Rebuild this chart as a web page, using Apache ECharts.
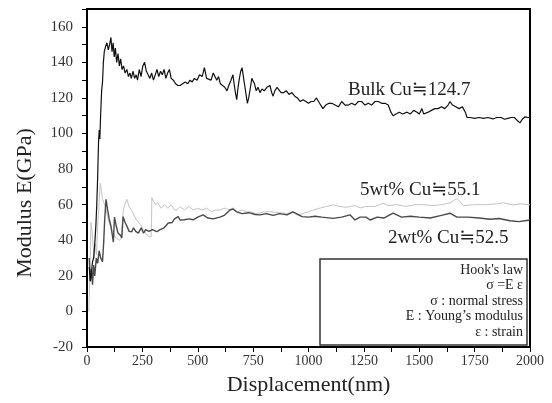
<!DOCTYPE html>
<html>
<head>
<meta charset="utf-8">
<script src="https://cdn.jsdelivr.net/npm/echarts@6/dist/echarts.min.js"></script>
<style>
html,body{margin:0;padding:0;background:#fff;}
#chart{width:552px;height:403px;}
</style>
</head>
<body>
<div id="chart"></div>
<script>
// ---- data ----
const xTicks = [0, 250, 500, 750, 1000, 1250, 1500, 1750, 2000];
const yTicks = [-20, 0, 20, 40, 60, 80, 100, 120, 140, 160];

const bulkCu = [[10,25],[15,17],[20,22],[25,28],[30,30],[35,38],[40,48],[44,60],[48,75],[52,95],[55,102],[58,97],[62,112],[66,124],[70,129],[74,140],[78,146],[84,149],[90,151],[96,147],[102,150],[108,154],[113,146],[118,151],[123,143],[128,148],[134,140],[140,145],[146,138],[152,142],[158,136],[165,138],[172,134],[180,136],[187,132],[194,134],[200,131],[208,135],[215,131],[222,133],[228,130],[236,136],[244,132],[252,138],[260,140],[268,135],[276,133],[284,131],[292,134],[300,130],[308,133],[316,136],[324,132],[332,135],[340,133],[348,136],[356,131],[364,134],[372,136],[380,131],[390,130],[400,128],[410,127],[420,127],[432,128],[444,129],[455,128],[465,130],[475,129],[485,131],[497,130],[508,133],[520,132],[530,137],[540,131],[548,132],[560,130],[570,134],[578,135],[586,130],[594,132],[602,128],[612,127],[622,126],[632,124],[640,127],[650,130],[659,133],[664,128],[670,123],[676,119],[682,126],[688,131],[694,135],[700,137],[706,132],[712,127],[718,122],[724,117],[730,120],[738,126],[744,131],[750,132],[756,128],[764,124],[772,126],[781,123],[790,125],[800,124],[812,126],[826,127],[834,123],[840,121],[848,124],[858,126],[867,126],[876,123],[888,123],[900,124],[912,122],[925,123],[938,121],[950,120],[962,118],[975,119],[988,118],[1000,117],[1012,118],[1024,118],[1036,120],[1050,117],[1065,114],[1078,116],[1092,117],[1105,117],[1120,116],[1135,115],[1150,118],[1165,116],[1180,116],[1195,117],[1210,116],[1225,118],[1240,118],[1255,116],[1270,117],[1285,116],[1300,118],[1315,118],[1330,117],[1345,117],[1360,116],[1372,112],[1382,110],[1395,111],[1410,112],[1425,111],[1445,112],[1460,111],[1475,113],[1490,112],[1500,111],[1512,114],[1520,111],[1526,110],[1540,112],[1555,113],[1570,114],[1585,114],[1600,115],[1615,114],[1630,116],[1639,118],[1650,116],[1665,115],[1680,114],[1695,115],[1708,112],[1716,109],[1730,109],[1750,108.5],[1770,109],[1790,108.5],[1810,109],[1833,108.2],[1850,109],[1870,109],[1885,108],[1900,108.5],[1915,109],[1930,109],[1945,107],[1955,106],[1965,108],[1978,109.4],[1990,109],[2000,109]];

const wt5Cu = [[8,0],[13,20],[18,50],[23,45],[28,36],[33,30],[38,38],[43,32],[48,48],[55,62],[60,72],[65,68],[70,63],[77,61],[85,58],[95,52],[105,48],[115,45],[125,42],[135,41],[145,40],[155,41],[160,42],[163,56],[170,60],[180,63],[190,59],[205,56],[220,52],[240,49],[255,46],[270,43],[280,42],[290,42],[293,64],[300,62],[310,60],[320,61],[335,58],[350,60],[365,58],[380,60],[395,57],[406,57],[420,58.9],[440,57],[460,59],[479,57],[500,58],[520,57],[540,58],[560,56],[580,57],[600,57],[620,58],[646,57],[659,58.2],[680,56],[700,57],[720,56],[740,56],[760,55],[781,55.4],[800,56],[830,56],[870,55.5],[903,55],[930,56],[950,54],[971,55],[1000,56],[1020,57],[1050,58],[1080,59],[1111,59.9],[1140,59],[1170,58.5],[1187,58.9],[1210,59.5],[1233,58.2],[1260,59],[1300,59],[1336,60.8],[1360,59.5],[1400,60],[1440,59],[1480,60],[1520,60],[1560,59.5],[1600,60],[1639,61],[1670,63.5],[1700,59.5],[1750,60],[1800,60],[1850,60.5],[1880,61],[1923,59.9],[1960,60.5],[2000,59.9]];

const wt2Cu = [[10,30],[15,17],[20,24],[25,15],[30,26],[35,20],[42,30],[48,27],[55,34],[62,30],[70,28],[75,38],[80,52],[86,63],[92,58],[100,52],[108,48],[113,44],[119,39],[124,53],[132,48],[140,44],[150,43],[157,41.3],[163,53.3],[172,50],[180,48],[190,45],[202,44.8],[210,47],[220,45],[232,44],[245,47],[255,44],[265,46],[280,45],[295,46],[315,44.8],[330,46],[348,47],[367,49.7],[385,50],[395,52],[412,53.3],[420,51.4],[440,51.5],[460,52],[479,51.5],[500,53],[524,54.3],[545,52.5],[570,52],[600,53],[620,54],[646,57],[659,57.6],[675,56],[700,55],[730,55.5],[760,54.5],[781,54.3],[810,55],[840,54],[870,55],[903,54.3],[930,56],[971,53.3],[1000,53],[1030,53.5],[1060,53],[1111,52.3],[1150,53],[1187,54.3],[1210,51.4],[1233,53],[1260,53],[1278,51.4],[1310,53],[1340,52.5],[1382,55.2],[1420,53],[1460,53.5],[1500,53],[1550,52.5],[1600,54],[1639,55.2],[1670,53],[1720,53],[1770,52.5],[1820,51.8],[1860,52.2],[1910,51],[1950,50.5],[2000,51.4]];

const seriesNames = ['5wt% Cu', '2wt% Cu', 'Bulk Cu'];
const annotations = ['Bulk Cu\u2252124.7', '5wt% Cu\u225255.1', '2wt% Cu\u225252.5'];
const boxLines = ["Hook's law", '\u03c3 =E \u03b5', '\u03c3 : normal stress', 'E : Young\u2019s modulus', '\u03b5 : strain'];

const FONT = '"Liberation Serif", "DejaVu Serif", serif';

const chart = echarts.init(document.getElementById('chart'), null, {renderer: 'canvas'});

const boxTexts = boxLines.map((t, i) => ({
  type: 'text', z: 20,
  style: {text: t, x: 523, y: 270 + i * 15.5, font: '14px ' + FONT, fill: '#222',
          textAlign: 'right', align: 'right', textVerticalAlign: 'middle', verticalAlign: 'middle'}
}));

chart.setOption({
  animation: false,
  backgroundColor: '#fff',
  grid: {left: 87, right: 22, top: 9, bottom: 56, show: true, borderColor: '#000', borderWidth: 2, backgroundColor: 'transparent'},
  xAxis: {
    type: 'value', min: xTicks[0], max: xTicks[xTicks.length - 1], interval: 250,
    name: 'Displacement(nm)', nameLocation: 'middle', nameGap: 27,
    nameTextStyle: {fontFamily: FONT, fontSize: 22, color: '#222'},
    axisLine: {show: true, onZero: false, lineStyle: {color: '#000', width: 2}},
    axisTick: {show: true, inside: false, length: 5, lineStyle: {color: '#000', width: 1}},
    minorTick: {show: true, splitNumber: 2, length: 5, lineStyle: {color: '#000', width: 1}},
    axisLabel: {fontFamily: FONT, fontSize: 14, color: '#333', margin: 7,
                formatter: v => (xTicks.indexOf(v) >= 0 ? String(v) : '')},
    splitLine: {show: false}
  },
  yAxis: {
    type: 'value', min: yTicks[0], max: 170, interval: 20,
    axisLine: {show: true, onZero: false, lineStyle: {color: '#000', width: 2}},
    axisTick: {show: true, inside: false, length: 5, lineStyle: {color: '#000', width: 1}},
    minorTick: {show: true, splitNumber: 2, length: 5, lineStyle: {color: '#000', width: 1}},
    axisLabel: {fontFamily: FONT, fontSize: 15, color: '#333', margin: 14,
                formatter: v => (yTicks.indexOf(v) >= 0 ? String(v) : '')},
    splitLine: {show: false}
  },
  series: [
    {name: seriesNames[0], type: 'line', data: wt5Cu, showSymbol: false, lineStyle: {color: '#c4c4c4', width: 1}, z: 2},
    {name: seriesNames[1], type: 'line', data: wt2Cu, showSymbol: false, lineStyle: {color: '#4a4a4a', width: 1.4}, z: 3},
    {name: seriesNames[2], type: 'line', data: bulkCu, showSymbol: false, lineStyle: {color: '#111', width: 1.2}, z: 4}
  ],
  graphic: [
    {type: 'text', x: 25, y: 203, rotation: Math.PI / 2, z: 20,
     style: {text: 'Modulus E(GPa)', x: 0, y: 0, font: '22px ' + FONT, fill: '#222',
             textAlign: 'center', align: 'center', textVerticalAlign: 'middle', verticalAlign: 'middle'}},
    {type: 'text', z: 20, style: {text: annotations[0], x: 348, y: 90, font: '19px ' + FONT, fill: '#222', textVerticalAlign: 'middle', verticalAlign: 'middle'}},
    {type: 'text', z: 20, style: {text: annotations[1], x: 360, y: 190, font: '19px ' + FONT, fill: '#222', textVerticalAlign: 'middle', verticalAlign: 'middle'}},
    {type: 'text', z: 20, style: {text: annotations[2], x: 388, y: 238, font: '19px ' + FONT, fill: '#222', textVerticalAlign: 'middle', verticalAlign: 'middle'}},
    {type: 'rect', z: 19, shape: {x: 320, y: 259, width: 207, height: 86},
     style: {fill: '#fff', stroke: '#333', lineWidth: 1.5}},
    ...boxTexts
  ]
});
</script>
</body>
</html>
